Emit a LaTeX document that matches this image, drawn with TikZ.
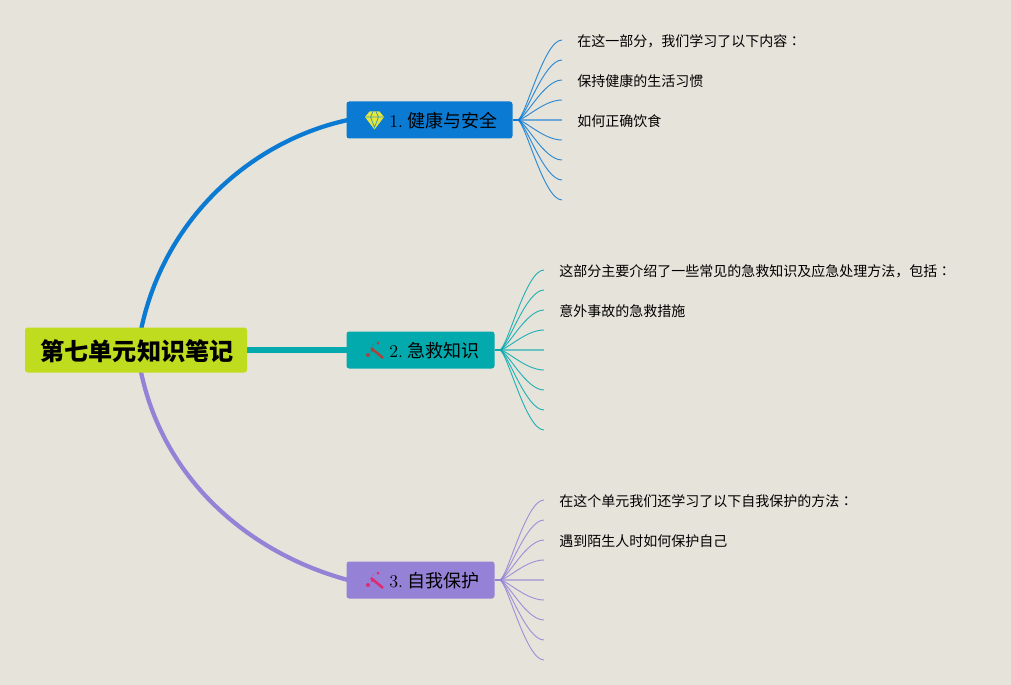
\documentclass[tikz,border=0pt]{standalone}
\usepackage{fontspec}
\newfontfamily\cjk{Noto Sans CJK SC}
\newfontfamily\cjkcolon{Noto Sans CJK JP}
\usepackage{tikz}
\usetikzlibrary{positioning}
\definecolor{paper}{HTML}{E6E3DB}
\definecolor{rootcol}{HTML}{BFDD1E}
\definecolor{bluecol}{HTML}{0A7AD2}
\definecolor{tealcol}{HTML}{02A9AD}
\definecolor{purplecol}{HTML}{9581D6}
\definecolor{wandred}{HTML}{A8443C}
\definecolor{wandpink}{HTML}{DF2A72}
\definecolor{gemcol}{HTML}{E4E83C}
\newcommand{\topiclabel}[2]{\hspace{20.5pt}#1.\hspace{3pt}{\cjk #2}}
\newcommand{\wcolon}{{\cjkcolon ：}}
\tikzset{
    root/.style={fill=rootcol, rounded corners=2pt, minimum width=166.5pt, minimum height=33.75pt, inner sep=0pt, text height=16pt, text depth=0.7pt, font=\fontsize{18.1}{20}\selectfont\cjk\bfseries},
    topic/.style={rounded corners=2pt, minimum height=27.75pt, inner sep=0pt, text height=12pt, text depth=0.3pt, font=\fontsize{13.5}{15}\selectfont},
    leaf/.style={anchor=west, inner sep=0pt, font=\fontsize{10.5}{12}\selectfont\cjk},
    trunk/.style={line width=3.2pt},
    twig/.style={line width=0.7pt, opacity=0.85},
    midtwig/.style={line width=1.5pt, opacity=0.55}
}
\begin{document}
\begin{tikzpicture}[x=0.75pt, y=-0.75pt]
    \useasboundingbox[fill=paper] (0,0) rectangle (1011,685);

    % main branches
    \coordinate (rootTop) at (141,330);
    \coordinate (rootBot) at (141,372);
    \coordinate (health) at (348,120);
    \coordinate (aid) at (348,350);
    \coordinate (self) at (348,580);
    \draw[trunk, bluecol] (rootTop) .. controls (165,215) and (255,140) .. (health);
    \draw[line width=4.5pt, tealcol] (246,350) -- (aid);
    \draw[trunk, purplecol] (rootBot) .. controls (165,485) and (255,555) .. (self);

    \node[root] (n0) at (136,350) {\hspace{1.5pt}第七单元知识笔记};

    \node[topic, fill=bluecol, minimum width=124.5pt] (n1) at (429.5,120) {\topiclabel{1}{健康与安全}};
    \node[topic, fill=tealcol, minimum width=111pt] (n2) at (420.5,350) {\topiclabel{2}{急救知识}};
    \node[topic, fill=purplecol, minimum width=111pt] (n3) at (420.5,580) {\topiclabel{3}{自我保护}};

    % fans of twigs
    \foreach \name/\col/\sx/\ex/\cy in {n1/bluecol/512/562/120, n2/tealcol/494/544/350, n3/purplecol/494/544/580} {
        \coordinate (\name hub) at (\sx+6,\cy);
        \draw[line width=2.2pt, \col] (\name.east) -- (\name hub);
        \foreach \dy in {-80,-60,-40,-20,20,40,60,80} {
            \coordinate (\name end\dy) at (\ex,\cy+\dy);
            \draw[twig, \col] (\name hub) .. controls (\sx+14,\cy+0.05*\dy) and (\sx+32,\cy+\dy) .. (\name end\dy);
        }
        \coordinate (\name end0) at (\ex,\cy);
        \draw[midtwig, \col] (\name hub) -- (\name end0);
    }

    % leaf texts
    \node[leaf] (l1) at (577,41.5) {在这一部分，我们学习了以下内容\wcolon};
    \node[leaf] (l2) at (577,81.5) {保持健康的生活习惯};
    \node[leaf] (l3) at (577,121.5) {如何正确饮食};
    \node[leaf] (l4) at (559,271.5) {这部分主要介绍了一些常见的急救知识及应急处理方法，包括\wcolon};
    \node[leaf] (l5) at (559,311.5) {意外事故的急救措施};
    \node[leaf] (l6) at (559,501.5) {在这个单元我们还学习了以下自我保护的方法\wcolon};
    \node[leaf] (l7) at (559,541.5) {遇到陌生人时如何保护自己};

    % icons
    \begin{scope}[shift={(374.5,120.5)}]
        \fill[gemcol] (-9.5,-3.5) -- (-5,-9) -- (5,-9) -- (9.5,-3.5) -- (0,9) -- cycle;
        \draw[bluecol!70!gemcol, line width=0.6pt] (-9.5,-3.5) -- (9.5,-3.5) (-4,-3.5) -- (0,7) -- (4,-3.5) (-4,-3.5) -- (-1.5,-9) (4,-3.5) -- (1.5,-9);
    \end{scope}
    \foreach \cx/\cy/\col in {375/350/wandred, 375/580/wandpink} {
        \begin{scope}[shift={(\cx,\cy)}]
            \draw[\col, line width=1.9pt] (-4,-2) -- (8,8);
            \fill[\col] (-7,5) circle (2) (-3,1) circle (1.1) (3,-7) circle (1.5) (-2,-5) circle (0.7);
        \end{scope}
    }
\end{tikzpicture}
\end{document}
